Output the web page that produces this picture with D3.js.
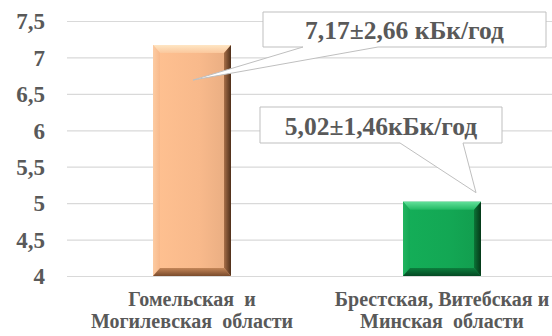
<!DOCTYPE html>
<html>
<head>
<meta charset="utf-8">
<script src="https://cdn.jsdelivr.net/npm/d3@7"></script>
<style>
  html, body { margin: 0; padding: 0; background: #fff; }
  svg { display: block; }
</style>
</head>
<body>
<svg id="chart" width="552" height="336"></svg>
<script>
// Regions (two-line category labels)
const categories = ["Гомельская и Могилевская области", "Брестская, Витебская и Минская области"];
const categoryLines = [["Гомельская  и", "Могилевская  области"], ["Брестская, Витебская и", "Минская  области"]];
// Mean values and spread, кБк/год
const means = [7.17, 5.02];
const spreads = [2.66, 1.46];
const valueLabels = ["7,17±2,66 кБк/год", "5,02±1,46кБк/год"];
// Y axis ticks
const tickValues = [4, 4.5, 5, 5.5, 6, 6.5, 7, 7.5];
const tickLabels = ["4", "4,5", "5", "5,5", "6", "6,5", "7", "7,5"];

const FONT = "'Liberation Serif', 'Times New Roman'";
const INK = "#595959";

const svg = d3.select("#chart");
const W = 552, H = 336;
const plot = { left: 67, right: 567, top: 21, bottom: 276 };

const y = d3.scaleLinear().domain([4, 7.5]).range([plot.bottom, plot.top]);
const x = d3.scaleBand().domain(categories).range([plot.left, plot.right])
  .paddingInner(0.688).paddingOuter(0.344);

// Bar colour schemes: face, top bevel, left bevel, right bevel, bottom bevel
const palettes = [
  { face: "#F8B98B", top: ["#FEE6C4", "#FBC79C"], left: ["#FCCBA2", "#F8B98B"], right: ["#A86F48", "#4F2F1A"], bottom: ["#C48658", "#7A4B2C"] },
  { face: "#13A754", top: ["#63E09A", "#22BA64"], left: ["#22B460", "#13A754"], right: ["#0B7336", "#053818"], bottom: ["#0C7E3D", "#054A24"] }
];

const defs = svg.append("defs");
palettes.forEach((p, i) => {
  const mk = (id, cols, x1, y1, x2, y2) => {
    const g = defs.append("linearGradient").attr("id", id)
      .attr("x1", x1).attr("y1", y1).attr("x2", x2).attr("y2", y2);
    g.append("stop").attr("offset", "0%").attr("stop-color", cols[0]);
    g.append("stop").attr("offset", "100%").attr("stop-color", cols[1]);
  };
  mk(`top${i}`, p.top, "0", "0", "0", "1");
  mk(`left${i}`, p.left, "0", "0", "1", "0");
  mk(`right${i}`, p.right, "0", "0", "1", "0");
  mk(`bottom${i}`, p.bottom, "0", "0", "0", "1");
  const fg = defs.append("linearGradient").attr("id", `face${i}`)
    .attr("x1", "0").attr("y1", "0").attr("x2", "1").attr("y2", "0");
  fg.append("stop").attr("offset", "0%").attr("stop-color", d3.color(p.face).brighter(0.12));
  fg.append("stop").attr("offset", "60%").attr("stop-color", p.face);
  fg.append("stop").attr("offset", "100%").attr("stop-color", d3.color(p.face).darker(0.2));
});

// Y axis with gridlines
const axis = d3.axisLeft(y).tickValues(tickValues)
  .tickFormat((d, i) => tickLabels[i])
  .tickSize(-(W - plot.left)).tickPadding(22);
const ag = svg.append("g").attr("transform", `translate(${plot.left},0)`).call(axis);
ag.attr("font-family", null);
ag.select(".domain").remove();
ag.selectAll(".tick line").attr("stroke", "#D9D9D9").attr("stroke-width", 1.2);
ag.selectAll(".tick text")
  .style("font-family", FONT).style("font-weight", "bold").attr("font-size", 23)
  .attr("fill", INK).attr("dy", "0.34em");

// Bevelled bars
const bars = svg.append("g");
means.forEach((v, i) => {
  const x0 = x(categories[i]), x1 = x0 + x.bandwidth();
  const y0 = y(v), y1 = y(4);
  const b = 8, bs = 7;
  const g = bars.append("g");
  g.append("rect").attr("x", x0).attr("y", y0).attr("width", x1 - x0).attr("height", y1 - y0)
    .attr("fill", `url(#face${i})`);
  g.append("polygon").attr("fill", `url(#top${i})`)
    .attr("points", [[x0, y0], [x1, y0], [x1 - bs, y0 + b], [x0 + bs, y0 + b]].join(" "));
  g.append("polygon").attr("fill", `url(#left${i})`)
    .attr("points", [[x0, y0], [x0 + bs, y0 + b], [x0 + bs, y1 - b], [x0, y1]].join(" "));
  g.append("polygon").attr("fill", `url(#right${i})`)
    .attr("points", [[x1, y0], [x1, y1], [x1 - bs, y1 - b], [x1 - bs, y0 + b]].join(" "));
  g.append("polygon").attr("fill", `url(#bottom${i})`)
    .attr("points", [[x0, y1], [x0 + bs, y1 - b], [x1 - bs, y1 - b], [x1, y1]].join(" "));
});

// Category labels
categoryLines.forEach((lines, i) => {
  const cx = x(categories[i]) + x.bandwidth() / 2;
  const t = svg.append("text").attr("text-anchor", "middle")
    .style("font-family", FONT).style("font-weight", "bold").attr("font-size", 20)
    .style("white-space", "pre").attr("fill", INK)
    .attr("x", cx).attr("y", 306);
  lines.forEach((ln, k) => {
    t.append("tspan").attr("x", cx).attr("dy", k === 0 ? 0 : 22).text(ln);
  });
});

// Callouts with wedge pointers
const callouts = [
  { box: [263, 12, 283, 35], base: [303, 378], tip: (x0, x1, yt) => [(x0 + x1) / 2 + 1, yt + 35] },
  { box: [260, 107, 242, 36], base: [400, 463], tip: (x0, x1, yt) => [x1 - 5, yt - 9] }
];
callouts.forEach((c, i) => {
  const x0 = x(categories[i]), x1 = x0 + x.bandwidth();
  const [tx, ty] = c.tip(x0, x1, y(means[i]));
  const [bx, by, bw, bh] = c.box;
  const g = svg.append("g");
  g.append("path")
    .attr("d", `M${bx},${by} H${bx + bw} V${by + bh} H${c.base[1]} L${tx},${ty} L${c.base[0]},${by + bh} H${bx} Z`)
    .attr("fill", "#fff").attr("stroke", "#BFBFBF").attr("stroke-width", 1);
  g.append("text").attr("x", bx + bw / 2).attr("y", by + bh / 2).attr("dy", "0.38em")
    .attr("text-anchor", "middle").attr("fill", INK)
    .style("font-family", FONT).style("font-weight", "bold").attr("font-size", 25.5)
    .text(valueLabels[i]);
});
</script>
</body>
</html>
